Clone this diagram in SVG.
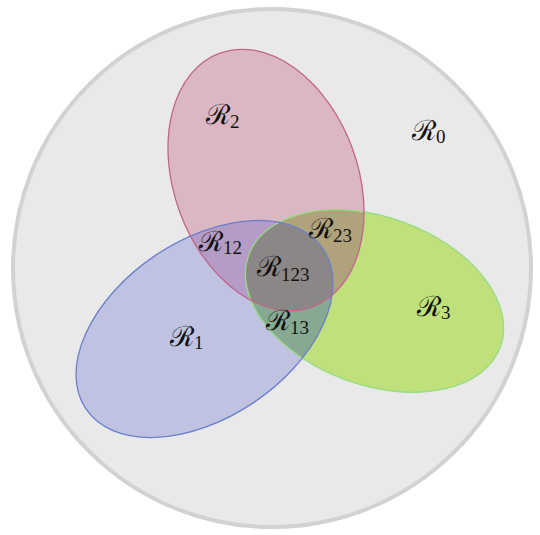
<svg xmlns="http://www.w3.org/2000/svg" width="540" height="535" viewBox="0 0 540 535">
<style>
.lbl{font-family:"DejaVu Serif","Liberation Serif",serif;font-size:28px;fill:#111}
.sub{font-family:"Liberation Serif","DejaVu Serif",serif;font-size:19px}
</style>
<defs>
<ellipse id="eBlue" cx="0" cy="0" rx="143" ry="88.5" transform="translate(204.5 329) rotate(-34)"/>
<ellipse id="eRed" cx="0" cy="0" rx="92" ry="135" transform="translate(266 180) rotate(-20)"/>
<ellipse id="eGreen" cx="0" cy="0" rx="134" ry="84" transform="translate(374.5 301) rotate(20)"/>
<clipPath id="cpBlue"><use href="#eBlue"/></clipPath>
<clipPath id="cpRed"><use href="#eRed"/></clipPath>
<clipPath id="cpGreen"><use href="#eGreen"/></clipPath>
</defs>
<g id="universe">
<circle cx="272" cy="268" r="259" fill="#e9e9e9" stroke="#d2d2d2" stroke-width="4"/>
</g>
<g id="fills">
<use href="#eBlue" fill="#bfc3e1"/>
<use href="#eRed" fill="#dbb7c4"/>
<use href="#eGreen" fill="#c0e07c"/>
<use href="#eRed" fill="#b49cc6" clip-path="url(#cpBlue)"/>
<use href="#eRed" fill="#b0a27a" clip-path="url(#cpGreen)"/>
<use href="#eBlue" fill="#87a991" clip-path="url(#cpGreen)"/>
<g clip-path="url(#cpGreen)"><use href="#eRed" fill="#8c8787" clip-path="url(#cpBlue)"/></g>
</g>
<g id="outlines" fill="none" stroke-width="1.3">
<use href="#eGreen" stroke="#96dc80"/>
<use href="#eBlue" stroke="#6a7fcc"/>
<use href="#eRed" stroke="#c2648c"/>
</g>
<g id="labels">
<text class="lbl" x="412" y="140">ℛ<tspan class="sub" dy="3">0</tspan></text>
<text class="lbl" x="206" y="124">ℛ<tspan class="sub" dy="4">2</tspan></text>
<text class="lbl" x="170" y="346">ℛ<tspan class="sub" dy="3">1</tspan></text>
<text class="lbl" x="417" y="316">ℛ<tspan class="sub" dy="3">3</tspan></text>
<text class="lbl" x="199" y="251">ℛ<tspan class="sub" dy="3">12</tspan></text>
<text class="lbl" x="309" y="238">ℛ<tspan class="sub" dy="4">23</tspan></text>
<text class="lbl" x="257" y="276">ℛ<tspan class="sub" dy="5">123</tspan></text>
<text class="lbl" x="266" y="330">ℛ<tspan class="sub" dy="4">13</tspan></text>
</g>
</svg>
